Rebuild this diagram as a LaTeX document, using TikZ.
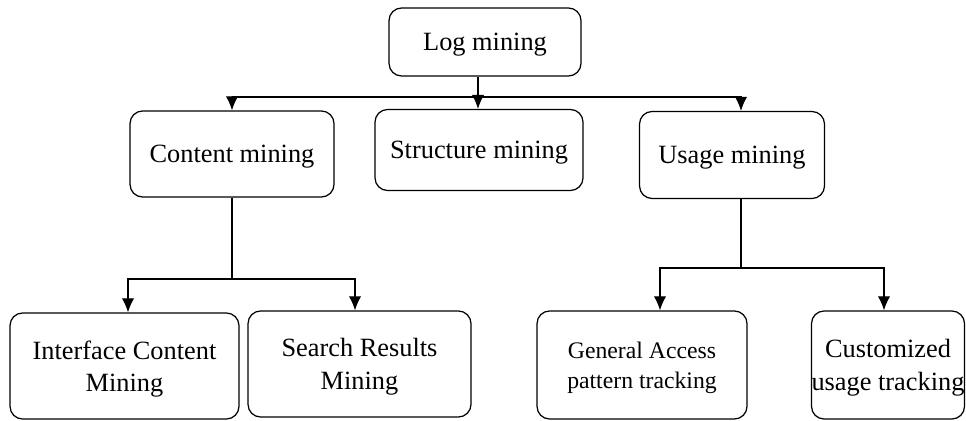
\documentclass[tikz,border=0pt]{standalone}
\usepackage{fontspec}
\setmainfont{Liberation Serif}
\usetikzlibrary{arrows.meta}
\begin{document}
\begin{tikzpicture}[x=0.02cm,y=-0.02cm,line width=0.7pt,
  every node/.style={font=\fontsize{15}{18.5}\selectfont},
  box/.style={draw,rounded corners=0.25cm,align=center,inner sep=0pt,text depth=0pt},
  arr/.style={-{Latex[length=8pt,width=7pt]}}]
 \useasboundingbox (0,0) rectangle (966,421);
 \node[box,minimum width=3.84cm,minimum height=1.36cm] (log) at (485,42) {Log mining};
 \node[box,minimum width=4.08cm,minimum height=1.72cm] (content) at (232,154) {Content mining};
 \node[box,minimum width=4.16cm,minimum height=1.62cm] (structure) at (479,150) {Structure mining};
 \node[box,minimum width=3.7cm,minimum height=1.74cm] (usage) at (732,155) {Usage mining};
 \node[box,minimum width=4.58cm,minimum height=2.12cm] (interface) at (124.5,366) {Interface Content\\Mining};
 \node[box,minimum width=4.46cm,minimum height=2.12cm] (search) at (359.5,364) {Search Results\\Mining};
 \node[box,minimum width=4.2cm,minimum height=2.16cm,font=\fontsize{13.5}{17}\selectfont] (general) at (642,365) {General Access\\pattern tracking};
 \node[box,minimum width=2.9cm,minimum height=2.16cm] (custom) at (888,365) {Customized\\usage tracking};
 \coordinate (top) at (478,97);
 \coordinate (csplit) at (232,279);
 \coordinate (usplit) at (741,268);
 \draw (log.south -| top) -- (top);
 \draw[arr] (top) -| (content);
 \draw[arr] (top) -- (structure.north -| top);
 \draw[arr] (top) -| ([xshift=0.18cm]usage.north);
 \draw (content) -- (csplit);
 \draw[arr] (csplit) -| ([xshift=0.07cm]interface.north);
 \draw[arr] (csplit) -| ([xshift=-0.09cm]search.north);
 \draw (usage.south -| usplit) -- (usplit);
 \draw[arr] (usplit) -| ([xshift=0.36cm]general.north);
 \draw[arr] (usplit) -| ([xshift=-0.08cm]custom.north);
\end{tikzpicture}
\end{document}
